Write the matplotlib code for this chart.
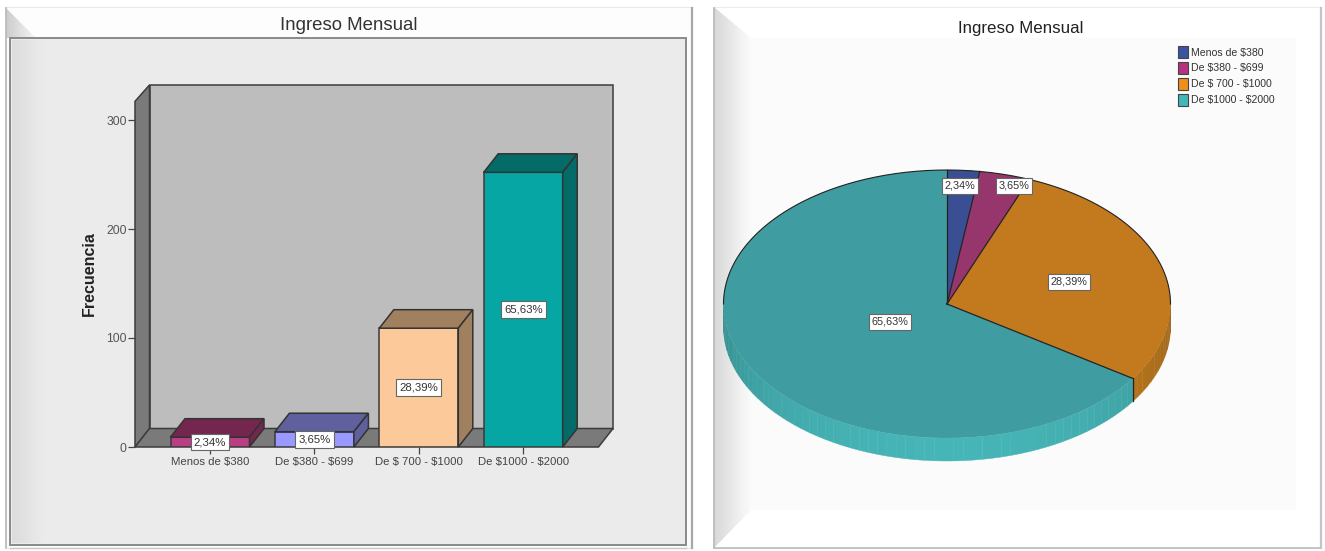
import numpy as np
import matplotlib
matplotlib.use("Agg")
import matplotlib.pyplot as plt
from matplotlib.patches import Patch, Polygon, Rectangle
from matplotlib.colors import to_rgb

plt.rcParams['font.family'] = ['Liberation Sans', 'DejaVu Sans']
plt.rcParams['text.parse_math'] = False

W, H = 1325, 551

categories = ['Menos de $380', 'De $380 - $699', 'De $ 700 - $1000', 'De $1000 - $2000']
frequencies = [9, 14, 109, 252]
percents = [2.34, 3.65, 28.39, 65.63]
percent_labels = ['2,34%', '3,65%', '28,39%', '65,63%']
y_ticks = [0, 100, 200, 300]

bar_front = ['#b93f85', '#9999ff', '#fbc99a', '#05a6a3']
bar_shade = ['#75264f', '#60609f', '#a0805f', '#046b68']
pie_top = ['#3a4f93', '#97356d', '#c37a1e', '#3f9ca0']
pie_side = ['#3a4f93', '#97356d', '#c8801f', '#46b5b7']
legend_colors = ['#3b53a4', '#b5327f', '#ef8f1a', '#41b8b8']

# where the plot frames sit, in image pixels
BAR_X0, BAR_STEP = 210.0, 104.4
BAR_W = 79 / BAR_STEP
PX_PER_UNIT = 1.09
FLOOR_Y = 447
WALL_L, WALL_R, WALL_TOP = 135, 613, 85
DX, DY = 14.5, 18.5
PIE_CX, PIE_CY, PIE_RX, PIE_RY = 947, 304, 223.5, 134
PIE_DEPTH = 23
PIE_LABEL_PX = [(960, 186), (1014, 186), (1069, 282), (890, 322)]


def px_axes(fig, x0, y0, x1, y1):
    # y0 is the upper pixel row
    return fig.add_axes([x0 / W, 1 - y1 / H, (x1 - x0) / W, (y1 - y0) / H])


def gradient(ax, x0, x1, y0, y1, c0, c1, clip=None):
    c0, c1 = np.array(to_rgb(c0)), np.array(to_rgb(c1))
    t = np.linspace(0, 1, 64)[None, :, None]
    img = ax.imshow(c0 + (c1 - c0) * t, extent=(x0, x1, y1, y0), aspect='auto', zorder=1)
    if clip is not None:
        poly = Polygon(clip, transform=ax.transData)
        img.set_clip_path(poly)


fig = plt.figure(figsize=(W / 100, H / 100), dpi=100, facecolor='white')

# panel backgrounds
bg = fig.add_axes([0, 0, 1, 1])
bg.set_zorder(-1)

bg.add_patch(Rectangle((6, 7), 686, 541, fc='#fdfdfd', ec='#e8e8e8', lw=0.8, zorder=0))
gradient(bg, 6, 36, 8, 38, '#cccccc', '#f6f6f6', clip=[(6, 8), (36, 38), (6, 38)])
bg.add_patch(Rectangle((10, 38), 676, 507, fc='#ebebeb', ec='#8a8a8a', lw=1.4, zorder=1))
gradient(bg, 12, 44, 40, 543, '#dcdcdc', '#ebebeb')
bg.plot([692, 692], [8, 548], color='#a8a8a8', lw=1.6, zorder=2)
bg.plot([6, 6], [8, 548], color='#b8b8b8', lw=1.2, zorder=2)
bg.plot([10, 686], [548, 548], color='#c8c8c8', lw=1, zorder=2)

bg.add_patch(Rectangle((714, 7), 607, 541, fc='#ffffff', ec='#ececec', lw=0.8, zorder=0))
bg.add_patch(Rectangle((750, 38), 546, 472, fc='#fbfbfb', ec='none', zorder=1))
gradient(bg, 714, 751, 7, 548, '#d8d8d8', '#fbfbfb',
         clip=[(714, 7), (751, 38), (751, 510), (714, 548)])
bg.plot([714, 714], [8, 548], color='#b8b8b8', lw=1.2, zorder=2)
bg.plot([714, 1321], [548, 548], color='#bdbdbd', lw=1.2, zorder=2)
bg.plot([1321, 1321], [8, 548], color='#c4c4c4', lw=1.6, zorder=2)

bg.set_xlim(0, W)
bg.set_ylim(H, 0)
bg.axis('off')

fig.text(349 / W, 1 - 25 / H, 'Ingreso Mensual', ha='center', va='center',
         fontsize=13.4, color='#333333')
fig.text(1021 / W, 1 - 29 / H, 'Ingreso Mensual', ha='center', va='center',
         fontsize=12.2, color='#222222')

# bar chart with the 3D box behind it
ax = px_axes(fig, WALL_L, WALL_TOP, WALL_R, FLOOR_Y)
ax.set_xlim((WALL_L - BAR_X0) / BAR_STEP, (WALL_R - BAR_X0) / BAR_STEP)
ax.set_ylim(0, (FLOOR_Y - WALL_TOP) / PX_PER_UNIT)
ax.patch.set_alpha(0)
for s in ax.spines.values():
    s.set_visible(False)

ddx, ddy = DX / BAR_STEP, DY / PX_PER_UNIT
xl, xr = ax.get_xlim()
ytop = ax.get_ylim()[1]
x_front_r = xr - ddx
wall_kw = dict(ec='#3c3c3c', lw=1.1, clip_on=False)
ax.add_patch(Polygon([(xl + ddx, ddy), (xr, ddy), (xr, ytop), (xl + ddx, ytop)],
                     fc='#bdbdbd', zorder=1, **wall_kw))
ax.add_patch(Polygon([(xl, 0), (xl + ddx, ddy), (xl + ddx, ytop), (xl, ytop - ddy + 2)],
                     fc='#7a7a7a', zorder=1, **wall_kw))
ax.add_patch(Polygon([(xl, 0), (x_front_r, 0), (xr, ddy), (xl + ddx, ddy)],
                     fc='#7a7a7a', zorder=1, **wall_kw))

xpos = np.arange(len(categories))
ax.bar(xpos, frequencies, width=BAR_W, color=bar_front, edgecolor='#3a3a3a', lw=1.1, zorder=3)
for x, v, shade in zip(xpos, frequencies, bar_shade):
    x0, x1 = x - BAR_W / 2, x + BAR_W / 2
    ax.add_patch(Polygon([(x0, v), (x1, v), (x1 + ddx, v + ddy), (x0 + ddx, v + ddy)],
                         fc=shade, ec='#333333', lw=1.1, zorder=3, clip_on=False))
    ax.add_patch(Polygon([(x1, 0), (x1 + ddx, ddy), (x1 + ddx, v + ddy), (x1, v)],
                         fc=shade, ec='#333333', lw=1.1, zorder=3, clip_on=False))

box = dict(boxstyle='square,pad=0.28', fc='white', ec='#666666', lw=0.8)
for x, v, lab in zip(xpos, frequencies, percent_labels):
    ax.text(x, v / 2, lab, ha='center', va='center', fontsize=8.2, color='#333333',
            bbox=box, zorder=6, clip_on=False)

ax.set_xticks(xpos)
ax.set_xticklabels(categories, fontsize=8.2, color='#444444')
ax.set_yticks(y_ticks)
ax.tick_params(axis='x', length=5, width=0.9, color='#444444', pad=2)
ax.tick_params(axis='y', length=5, width=0.9, color='#444444', pad=1, labelsize=8.7, labelcolor='#555555')
ax.set_ylabel('Frecuencia', fontsize=11.5, fontweight='bold', color='#222222')
ax.yaxis.set_label_coords((97 - WALL_L) / (WALL_R - WALL_L), (FLOOR_Y - 274) / (FLOOR_Y - WALL_TOP))

# pie with a flat extruded rim
pie_ax = px_axes(fig, PIE_CX - PIE_RX, PIE_CY - PIE_RY, PIE_CX + PIE_RX, PIE_CY + PIE_RY)
wedges, _ = pie_ax.pie(percents, colors=pie_top, startangle=90, counterclock=False,
                       radius=1, wedgeprops=dict(ec='none'))
pie_ax.set_aspect('auto')
pie_ax.set_xlim(-1, 1)
pie_ax.set_ylim(-1, 1)
for w in wedges:
    w.set_zorder(3)

depth = PIE_DEPTH / PIE_RY
edges = np.cumsum([0] + percents) / sum(percents) * 360
for a0, a1, col in zip(edges[:-1], edges[1:], pie_side):
    lo, hi = max(a0, 90), min(a1, 270)
    if hi <= lo:
        continue
    steps = np.linspace(lo, hi, int((hi - lo) / 2.5) + 2)
    base = np.array(to_rgb(col))
    for s0, s1 in zip(steps[:-1], steps[1:]):
        t = np.radians(np.linspace(s0, s1, 4))
        xs, ys = np.sin(t), np.cos(t)
        pts = np.r_[np.c_[xs, ys], np.c_[xs[::-1], ys[::-1] - depth]]
        shade = 0.78 + 0.22 * max(0, np.cos(np.radians((s0 + s1) / 2 - 180)))
        pie_ax.add_patch(Polygon(pts, fc=base * shade, ec=base * shade, lw=0.3, zorder=2, clip_on=False))

# only the far half of the rim and the slice borders carry an outline
rim = np.radians(np.linspace(-90, 90, 200))
pie_ax.plot(np.sin(rim), np.cos(rim), color='#222222', lw=0.8, zorder=4, clip_on=False)
for a in edges[:-1]:
    r = np.radians(a)
    pie_ax.plot([0, np.sin(r)], [0, np.cos(r)], color='#222222', lw=0.9, zorder=4, clip_on=False)

cut = np.radians(edges[3])
pie_ax.plot([np.sin(cut)] * 2, [np.cos(cut), np.cos(cut) - depth], color='#222222', lw=0.9, zorder=4, clip_on=False)

for (px, py), lab in zip(PIE_LABEL_PX, percent_labels):
    pie_ax.text((px - PIE_CX) / PIE_RX, (PIE_CY - py) / PIE_RY, lab, ha='center', va='center',
                fontsize=7.8, color='#333333', bbox=box, zorder=6)

handles = [Patch(fc=c, ec='#444444', lw=0.8) for c in legend_colors]
pie_ax.legend(handles, categories, loc='upper left', frameon=False,
              bbox_to_anchor=(1176 / W, 1 - 44 / H), bbox_transform=fig.transFigure,
              prop=dict(size=7.6), labelcolor='#333333', handlelength=0.95, handleheight=1.35,
              handletextpad=0.25, labelspacing=0.38, borderpad=0.2, borderaxespad=0)

fig.savefig('out.png', dpi=100)
